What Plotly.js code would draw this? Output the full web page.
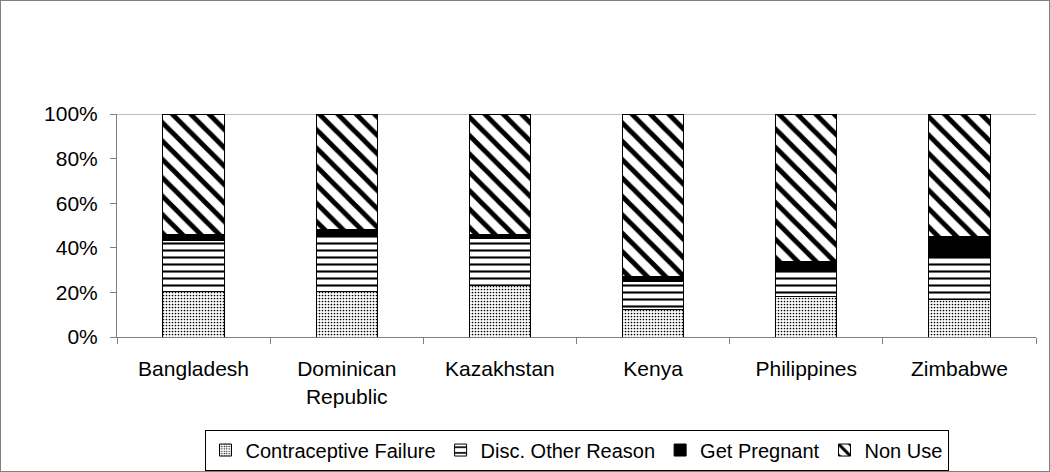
<!DOCTYPE html>
<html><head><meta charset="utf-8">
<script src="https://cdn.plot.ly/plotly-3.0.1.min.js"></script>
<style>
html,body{margin:0;padding:0;background:#fff;}
#wrap{position:relative;width:1050px;height:472px;}
#chart{width:1050px;height:472px;}
#frame{position:absolute;left:0;top:0;width:1048px;height:470px;border:1px solid #808080;pointer-events:none;}
</style></head>
<body>
<div id="wrap"><div id="chart"></div><div id="frame"></div></div>
<script>
const countries = ["Bangladesh", "Dominican<br>Republic", "Kazakhstan", "Kenya", "Philippines", "Zimbabwe"];
const contraceptiveFailure = [20.5, 20.5, 23, 12.5, 18, 17];
const discOtherReason = [23, 25, 21, 12.5, 11.5, 19];
const getPregnant = [2.5, 2.5, 2, 2, 4.5, 9];
const nonUse = [54, 52, 54, 73, 66, 55];
const seriesNames = ["Contraceptive Failure", "Disc. Other Reason", "Get Pregnant", "Non Use"];
const yTicks = [0, 20, 40, 60, 80, 100];

const line = {color: '#000', width: 1};
const traces = [
  {name: seriesNames[0], y: contraceptiveFailure,
   marker: {color: '#fff', line: line, pattern: {shape: '.', fgcolor: '#000', bgcolor: '#fff', size: 3, solidity: 0.25}}},
  {name: seriesNames[1], y: discOtherReason,
   marker: {color: '#fff', line: line, pattern: {shape: '-', fgcolor: '#000', bgcolor: '#fff', size: 7, solidity: 0.3}}},
  {name: seriesNames[2], y: getPregnant,
   marker: {color: '#000', line: line}},
  {name: seriesNames[3], y: nonUse,
   marker: {color: '#fff', line: line, pattern: {shape: '\\', fgcolor: '#000', bgcolor: '#fff', size: 13, solidity: 0.38}}}
].map(t => Object.assign({type: 'bar', x: countries, width: 0.4, hoverinfo: 'skip'}, t));

const font = {family: '"Liberation Sans", Arial, sans-serif', color: '#000', size: 21};
const layout = {
  width: 1050, height: 472,
  margin: {l: 117, r: 14, t: 114, b: 135, pad: 0, autoexpand: false},
  barmode: 'stack',
  paper_bgcolor: '#fff', plot_bgcolor: '#fff',
  font: font,
  showlegend: true,
  legend: {orientation: 'h', x: 0.5, xanchor: 'center', y: -0.415, yanchor: 'top',
    bordercolor: '#000', borderwidth: 1, font: {size: 20}, traceorder: 'normal',
    itemwidth: 30, tracegroupgap: 0},
  xaxis: {type: 'category', tickson: 'boundaries', ticks: 'outside', ticklen: 6, tickcolor: '#808080',
    showline: true, linecolor: '#808080', linewidth: 1, showgrid: false, zeroline: false,
    tickfont: {size: 21}, ticklabelstandoff: 13, fixedrange: true},
  yaxis: {range: [0, 100], tickvals: yTicks, ticktext: yTicks.map(v => v + '%'), ticks: 'outside', ticklen: 6,
    tickcolor: '#808080', showline: true, linecolor: '#808080', linewidth: 1,
    showgrid: false, zeroline: false, tickfont: {size: 21}, ticklabelstandoff: 8, fixedrange: true},
  shapes: [{type: 'line', xref: 'paper', yref: 'y', x0: 0, x1: 1, y0: 100, y1: 100,
    line: {color: '#808080', width: 1}, layer: 'below'}]
};
Plotly.newPlot('chart', traces, layout, {displayModeBar: false, staticPlot: true});
</script>
</body></html>
